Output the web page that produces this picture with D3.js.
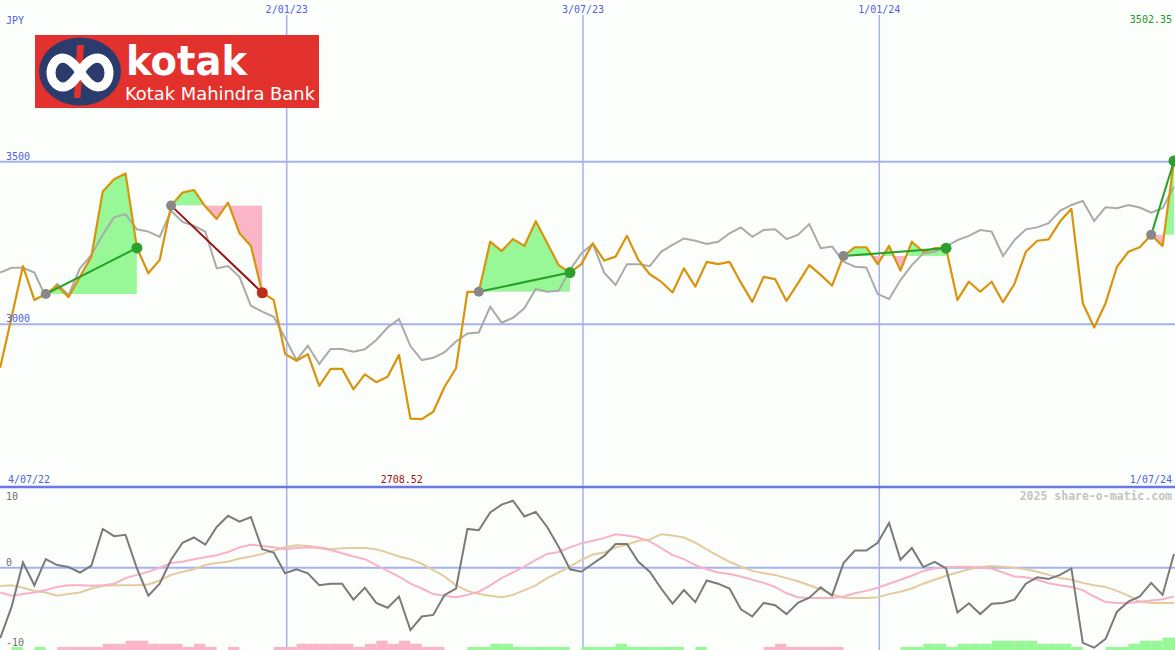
<!DOCTYPE html>
<html><head><meta charset="utf-8">
<script src="https://cdn.jsdelivr.net/npm/d3@7"></script>
<style>
html,body{margin:0;padding:0;background:#fcfefc;}
svg{display:block;}
text{font-family:"DejaVu Sans Mono",monospace;font-size:10px;}
</style></head><body>
<svg id="c" width="1175" height="650"></svg>
<script>
// ---------- data ----------
const firstWeek = "2022-07-10";
const price = [2866,3022,3179,3075,3093,3119,3083,3146,3208,3408,
  3446,3464,3235,3157,3198,3365,3405,3413,3362,3324,
  3374,3280,3241,3097,3075,2909,2888,2908,2811,2863,
  2863,2800,2846,2822,2839,2906,2710,2708.52,2731,2808,
  2865,3100,3100,3254,3225,3262,3241,3317,3250,3182,
  3159,3185,3249,3196,3208,3272,3198,3154,3131,3098,
  3172,3116,3192,3185,3192,3128,3069,3146,3139,3072,
  3126,3182,3152,3119,3210,3237,3237,3185,3241,3165,
  3254,3223,3234,3234,3075,3131,3100,3131,3068,3124,
  3223,3257,3261,3316,3355,3065,2990,3065,3177,3223,
  3237,3275,3241,3502.35];
const average = [3159,3174,3174,3159,3084,3124,3090,3172,3213,3275,
  3329,3339,3292,3285,3269,3349,3315,3303,3285,3172,
  3179,3146,3057,3039,3023,2958,2890,2934,2878,2924,
  2924,2916,2923,2952,2990,3016,2933,2890,2897,2914,
  2947,2972,2975,3054,3005,3020,3049,3109,3100,3103,
  3167,3218,3247,3159,3121,3185,3185,3179,3223,3244,
  3264,3257,3247,3254,3280,3298,3269,3290,3292,3262,
  3275,3308,3234,3239,3193,3177,3175,3093,3078,3136,
  3182,3218,3223,3239,3259,3272,3290,3285,3210,3259,
  3292,3298,3311,3349,3367,3379,3318,3360,3357,3367,
  3359,3343,3357,3423];
const oscillator = [-8.8,-4.9,0.8,-2.2,1.3,0.4,0.1,-0.6,0.3,5.9,
  4.8,5.0,-0.1,-3.5,-2.0,1.2,3.8,4.6,3.5,6.2,
  7.9,7.0,7.7,2.8,2.3,-0.7,-0.2,-0.7,-2.2,-2.0,
  -2.0,-4.0,-2.5,-4.4,-5.0,-3.6,-7.8,-6.1,-5.9,-3.4,
  -2.6,5.9,5.7,8.4,9.6,10.2,7.8,8.5,6.2,3.2,
  -0.2,-0.5,0.6,1.8,3.6,3.6,0.9,-0.5,-2.6,-4.5,
  -2.8,-4.3,-1.6,-2.0,-2.6,-5.2,-6.1,-4.4,-4.7,-5.8,
  -4.4,-3.75,-2.45,-3.5,0.7,2.6,2.6,3.8,6.8,1.2,
  3.0,0.1,0.9,-0.1,-5.6,-4.45,-5.8,-4.5,-4.4,-4.0,
  -2.0,-1.2,-1.4,-0.9,-0.1,-9.4,-10.0,-8.9,-5.5,-4.25,
  -3.6,-1.9,-3.4,2.1];
const oscFast = [-3.1,-3.5,-3.3,-3.1,-2.8,-2.4,-2.2,-2.2,-2.25,-2.2,
  -2.0,-1.3,-0.9,-0.5,0,0.7,0.9,1.3,1.6,1.9,
  2.4,3.1,3.5,3.3,3.1,2.8,3.0,3.1,3.0,2.7,
  2.2,1.7,1.3,0.4,-0.4,-1.1,-2.0,-2.6,-3.3,-3.5,
  -3.7,-3.4,-3.0,-2.2,-1.3,-0.6,0.15,1.2,2.1,2.4,
  3.1,3.7,4.1,4.5,5.1,4.9,4.6,4.0,3.0,1.9,
  1.3,0.4,-0.2,-0.6,-0.8,-1.1,-1.5,-1.9,-2.4,-3.2,
  -3.7,-3.8,-3.8,-3.8,-3.6,-3.2,-2.9,-2.5,-2.0,-1.5,
  -1.0,-0.4,-0.1,0.1,0.15,0.15,0,-0.1,-0.6,-1.1,
  -1.2,-1.5,-1.95,-2.2,-2.4,-2.8,-3.6,-4.3,-4.4,-4.4,
  -4.25,-4.1,-3.95,-3.6];
const oscSlow = [-2.3,-2.2,-2.5,-2.9,-3.1,-3.5,-3.3,-3.1,-2.6,-2.3,
  -2.2,-2.2,-2.2,-2.1,-1.6,-0.9,-0.5,-0.2,0.4,0.7,
  0.9,1.4,1.7,2.1,2.6,3.1,3.4,3.3,3.1,2.8,
  2.95,3.0,3.0,2.8,2.3,1.7,1.3,0.6,-0.3,-1.1,
  -2.2,-2.9,-3.3,-3.5,-3.7,-3.4,-2.8,-2.2,-1.3,-0.6,
  0.15,1.2,2.0,2.3,3.1,3.5,4.1,4.3,5.1,4.9,
  4.6,3.8,2.8,1.8,0.9,0.15,-0.4,-0.7,-0.9,-1.3,
  -1.7,-2.2,-2.7,-3.3,-3.75,-3.8,-3.8,-3.7,-3.3,-3.0,
  -2.6,-2.0,-1.5,-1.0,-0.6,-0.2,0.1,0.25,0.15,0,
  -0.2,-0.5,-0.9,-1.3,-1.5,-1.9,-2.2,-2.4,-2.9,-3.5,
  -4.25,-4.4,-4.4,-4.4];
const flow = [0,1,0,1,0,-1,-1,-1,-1,-2,
  -2,-3,-3,-2,-2,-2,-1,-2,-1,0,
  -1,0,0,0,-1,-1,-2,-2,-2,-2,
  -2,-1,-2,-3,-2,-3,-2,-1,-1,0,
  0,1,1,2,2,1,1,1,1,1,
  0,1,1,1,2,1,1,1,1,1,
  0,1,0,0,0,0,0,-1,-2,-1,
  -1,-1,-1,-1,0,0,0,0,0,1,
  1,2,2,1,2,2,2,3,3,3,
  3,2,2,2,1,0,0,1,1,2,
  3,3,4,4];
const segStart = [4,15,42,74,101];
const segEnd   = [12,23,50,83,103];
const xGridDates  = ["2023-01-02","2023-07-03","2024-01-01"];
const xGridLabels = ["2/01/23","3/07/23","1/01/24"];
const yGridValues = [3000,3500];
const yGridLabels = ["3000","3500"];
const oscTicks = [10,0,-10];
const oscTickLabels = ["10","0","-10"];
const rangeStart = "2022-07-04", rangeEnd = "2024-07-01";
const rangeStartLabel = "4/07/22", rangeEndLabel = "1/07/24";
const currency = "JPY";
const credit = "2025 share-o-matic.com";

// ---------- scales ----------
const W = 1175, H = 650, SPLIT = 487;
const dates = price.map((_, i) => d3.utcDay.offset(new Date(firstWeek), 7 * i));
const x = d3.scaleUtc().domain([new Date(rangeStart), new Date(rangeEnd)]).range([-9.6, 1175.6]);
const y = d3.scaleLinear().domain([3000, 3500]).range([324.3, 161.7]);
const yo = d3.scaleLinear().domain([-10, 0, 10]).range([647.7, 567.7, 502]);
const yb = d3.scaleLinear().domain([0, 4]).range([650, 637.6]);

const svg = d3.select("#c");
svg.append("rect").attr("width", W).attr("height", H).attr("fill", "#fcfefc");
const defs = svg.append("defs");
defs.append("clipPath").attr("id", "topClip").append("rect").attr("x", 0).attr("y", 0).attr("width", W).attr("height", SPLIT);
defs.append("clipPath").attr("id", "botClip").append("rect").attr("x", 0).attr("y", SPLIT).attr("width", W).attr("height", H - SPLIT);

const gridCol = "#a6b2f0", blue = "#4f5fe6";

// ---------- grid ----------
const grid = svg.append("g");
grid.selectAll(".hg").data(yGridValues).join("line")
  .attr("x1", 0).attr("x2", W).attr("y1", d => y(d)).attr("y2", d => y(d))
  .attr("stroke", gridCol).attr("stroke-width", 2);
grid.selectAll(".vg").data(xGridDates).join("line")
  .attr("x1", d => x(new Date(d))).attr("x2", d => x(new Date(d)))
  .attr("y1", 15).attr("y2", H).attr("stroke", gridCol).attr("stroke-width", 1.5);
grid.append("line").attr("x1", 0).attr("x2", W).attr("y1", yo(0)).attr("y2", yo(0))
  .attr("stroke", gridCol).attr("stroke-width", 2);
grid.append("line").attr("x1", 0).attr("x2", W).attr("y1", SPLIT).attr("y2", SPLIT)
  .attr("stroke", "#6a78e6").attr("stroke-width", 2.5);

// ---------- top panel ----------
const topG = svg.append("g").attr("clip-path", "url(#topClip)");
segStart.forEach((ks, s) => {
  const ke = segEnd[s], base = price[ks];
  const idx = d3.range(ks, ke + 1);
  const x0 = x(dates[ks]), x1 = x(dates[ke]), yBase = y(base);
  const gId = "gclip" + s, pId = "pclip" + s;
  defs.append("clipPath").attr("id", gId).append("rect")
    .attr("x", x0).attr("y", 0).attr("width", x1 - x0).attr("height", yBase);
  defs.append("clipPath").attr("id", pId).append("rect")
    .attr("x", x0).attr("y", yBase).attr("width", x1 - x0).attr("height", SPLIT - yBase);
  const area = d3.area().x(i => x(dates[i])).y0(yBase).y1(i => y(price[i]));
  topG.append("path").datum(idx).attr("d", area).attr("fill", "#98f898").attr("clip-path", `url(#${gId})`);
  topG.append("path").datum(idx).attr("d", area).attr("fill", "#fab6c8").attr("clip-path", `url(#${pId})`);
});

const lineTop = arr => d3.line().x((d, i) => x(dates[i])).y(d => y(d))(arr);
topG.append("path").attr("d", lineTop(average)).attr("fill", "none").attr("stroke", "#aaaaaa").attr("stroke-width", 2);
topG.append("path").attr("d", lineTop(price)).attr("fill", "none").attr("stroke", "#d8940c").attr("stroke-width", 2.2).attr("stroke-linejoin", "round");

segStart.forEach((ks, s) => {
  const ke = segEnd[s], up = price[ke] >= price[ks];
  topG.append("line").attr("x1", x(dates[ks])).attr("y1", y(price[ks]))
    .attr("x2", x(dates[ke])).attr("y2", y(price[ke]))
    .attr("stroke", up ? "#26a026" : "#9a1414").attr("stroke-width", 2);
  topG.append("circle").attr("cx", x(dates[ks])).attr("cy", y(price[ks])).attr("r", 5).attr("fill", "#888888");
  topG.append("circle").attr("cx", x(dates[ke])).attr("cy", y(price[ke])).attr("r", 5.5)
    .attr("fill", up ? "#2e9e2e" : "#bb2c1c");
});

// ---------- bottom panel ----------
const botG = svg.append("g").attr("clip-path", "url(#botClip)");
botG.selectAll(".bar").data(flow.map((v, i) => ({v, i})).filter(d => d.v !== 0)).join("rect")
  .attr("x", d => x(dates[d.i]))
  .attr("width", d => x(d3.utcDay.offset(dates[d.i], 7)) - x(dates[d.i]))
  .attr("y", d => yb(Math.abs(d.v)))
  .attr("height", d => yb(0) - yb(Math.abs(d.v)))
  .attr("fill", d => d.v > 0 ? "#98f898" : "#fab6c8");
const lineBot = arr => d3.line().x((d, i) => x(dates[i])).y(d => yo(d))(arr);
botG.append("path").attr("d", lineBot(oscSlow)).attr("fill", "none").attr("stroke", "#e4cb9e").attr("stroke-width", 2);
botG.append("path").attr("d", lineBot(oscFast)).attr("fill", "none").attr("stroke", "#f8b2c8").attr("stroke-width", 2);
botG.append("path").attr("d", lineBot(oscillator)).attr("fill", "none").attr("stroke", "#7a7a7a").attr("stroke-width", 2);

// ---------- texts ----------
const T = svg.append("g");
T.append("text").attr("x", 6).attr("y", 24).attr("fill", blue).text(currency);
T.selectAll(".xl").data(xGridDates).join("text")
  .attr("x", d => x(new Date(d))).attr("y", 13).attr("text-anchor", "middle").attr("fill", blue)
  .text((d, i) => xGridLabels[i]);
T.selectAll(".yl").data(yGridValues).join("text")
  .attr("x", 6).attr("y", d => y(d) - 2).attr("fill", blue).text((d, i) => yGridLabels[i]);
const maxI = d3.maxIndex(price), minI = d3.minIndex(price);
T.append("text").attr("x", Math.min(x(dates[maxI]), 1172)).attr("y", 23).attr("text-anchor", "end")
  .attr("fill", "#229922").text(price[maxI].toFixed(2));
T.append("text").attr("x", x(dates[minI]) + 1).attr("y", 483).attr("text-anchor", "end")
  .attr("fill", "#a01010").text(price[minI].toFixed(2));
T.append("text").attr("x", 8).attr("y", 483).attr("fill", blue).text(rangeStartLabel);
T.append("text").attr("x", 1172).attr("y", 483).attr("text-anchor", "end").attr("fill", blue).text(rangeEndLabel);
T.append("text").attr("x", 1172).attr("y", 500).attr("text-anchor", "end").attr("fill", "#c4c4c4")
  .style("font-size", "11.5px").style("font-weight", "bold").text(credit);
T.selectAll(".ol").data(oscTicks).join("text")
  .attr("x", 6).attr("y", d => yo(d) - 2).attr("fill", "#707070").text((d, i) => oscTickLabels[i]);

// ---------- logo ----------
const L = svg.append("g");
L.append("rect").attr("x", 35).attr("y", 35).attr("width", 284).attr("height", 73).attr("fill", "#e3312d");
L.append("ellipse").attr("cx", 80).attr("cy", 71.5).attr("rx", 41).attr("ry", 34).attr("fill", "#2a3b6c");
L.append("path").attr("d", "M77 45 L84 45 L80.5 98 L74 98 Z").attr("fill", "#e3312d");
L.append("path")
  .attr("d", "M80 72 C74 63,68 58,62 58 C55 59,51 66,51 73 C51 80,56 87,63 87 C70 87,75 80,80 72 C85 64,90 58,98 58 C105 59,109 66,109 73 C109 80,105 87,98 87 C91 87,86 80,80 72")
  .attr("fill", "none").attr("stroke", "#ffffff").attr("stroke-width", 9);
L.append("text").attr("x", 126).attr("y", 74.5).attr("fill", "#ffffff")
  .style("font-family", "'DejaVu Sans', sans-serif").style("font-size", "40px").style("font-weight", "700")
  .attr("textLength", 121).attr("lengthAdjust", "spacingAndGlyphs").text("kotak");
L.append("text").attr("x", 125).attr("y", 100).attr("fill", "#ffffff")
  .style("font-family", "'DejaVu Sans', sans-serif").style("font-size", "17px")
  .attr("textLength", 190).attr("lengthAdjust", "spacingAndGlyphs").text("Kotak Mahindra Bank");
</script>
</body></html>
